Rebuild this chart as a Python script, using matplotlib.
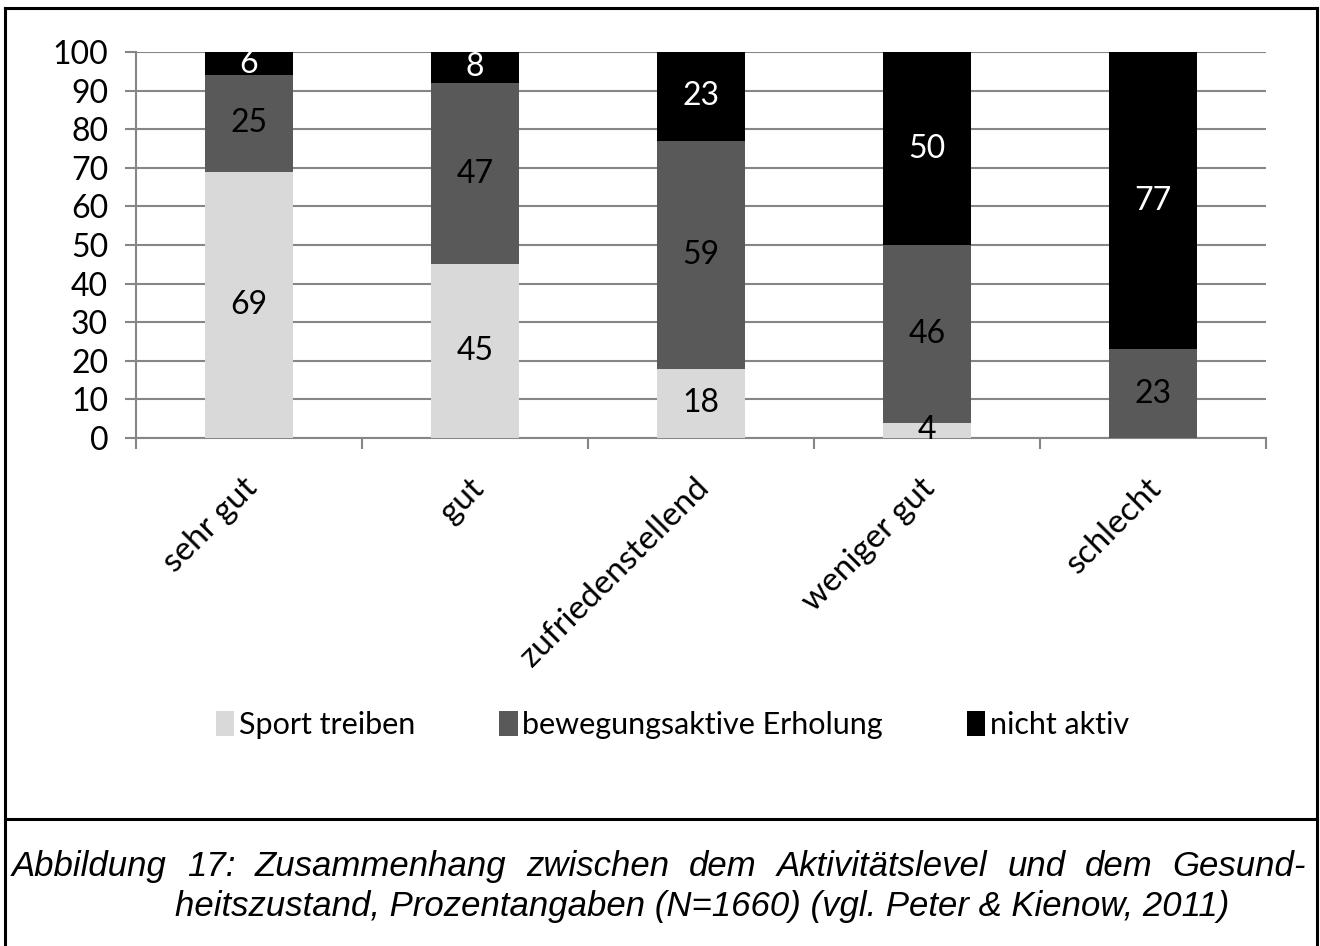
import matplotlib
matplotlib.use("Agg")
from matplotlib import pyplot as plt
from matplotlib.patches import Patch
from matplotlib.lines import Line2D

# Data (percent)
categories = ['sehr gut', 'gut', 'zufriedenstellend', 'weniger gut', 'schlecht']
sport = [69, 45, 18, 4, 0]
erholung = [25, 47, 59, 46, 23]
nicht_aktiv = [6, 8, 23, 50, 77]
series_names = ['Sport treiben', 'bewegungsaktive Erholung', 'nicht aktiv']
colors = ['#d9d9d9', '#595959', '#000000']
label_colors = ['black', 'black', 'white']
caption_lines = [
    'Abbildung 17: Zusammenhang zwischen dem Aktivitätslevel und dem Gesund-',
    'heitszustand, Prozentangaben (N=1660) (vgl. Peter & Kienow, 2011)',
]

plt.rcParams['font.family'] = ['Lato', 'DejaVu Sans']
cap_font = 'Liberation Sans'

grid_c = '#868686'
W, H = 1320, 946
fig = plt.figure(figsize=(13.2, 9.46), dpi=100)
ax = fig.add_axes([0.103, 0.537, 0.856, 0.408])

x = range(len(categories))
bottom = [0] * len(categories)
for vals, col, lc in zip([sport, erholung, nicht_aktiv], colors, label_colors):
    ax.bar(x, vals, bottom=bottom, width=0.39, color=col, zorder=3)
    for i, v in enumerate(vals):
        if v > 0:
            ax.text(i, bottom[i] + v / 2, str(v), ha='center', va='center',
                    fontsize=23, color=lc, zorder=4)
    bottom = [b + v for b, v in zip(bottom, vals)]

ax.set_xlim(-0.5, len(categories) - 0.5)
ax.set_ylim(0, 100)
ax.set_yticks(range(0, 101, 10))
ax.yaxis.grid(True, color=grid_c, linewidth=1.5, zorder=0)
ax.set_xticks([i - 0.5 for i in range(len(categories) + 1)])
ax.set_xticklabels([])
ax.tick_params(axis='x', length=8, width=1.5, color=grid_c)
ax.tick_params(axis='y', length=8, width=1.5, color=grid_c, labelsize=23, pad=12)
for s in ['top', 'right']:
    ax.spines[s].set_visible(False)
for s in ['left', 'bottom']:
    ax.spines[s].set_color(grid_c)
    ax.spines[s].set_linewidth(1.5)

for i, c in enumerate(categories):
    ax.text(i - 0.03, -9, c, rotation=45, ha='right', va='top',
            rotation_mode='anchor', fontsize=24)

handles = [Patch(facecolor=c, edgecolor='none') for c in colors]
fig.legend(handles, series_names, loc='center', bbox_to_anchor=(672.5 / W, 1 - 725 / H),
           ncol=3, frameon=False, fontsize=22, handlelength=0.6, handleheight=0.85,
           handletextpad=0.15, columnspacing=2.75)

# outer frame and separator
def fl(x0, y0, x1, y1):
    fig.add_artist(Line2D([x0 / W, x1 / W], [1 - y0 / H, 1 - y1 / H],
                          color='black', linewidth=2.2))
fl(5, 8, 1317, 8)
fl(5, 8, 5, 946)
fl(1317, 8, 1317, 946)
fl(5, 819, 1317, 819)

# caption, first line justified
fig.canvas.draw()
renderer = fig.canvas.get_renderer()
cap_size = 25
words = caption_lines[0].split(' ')
texts = [fig.text(0, 1 - 866 / H, w, fontsize=cap_size, style='italic', family=cap_font,
                  va='center', ha='left') for w in words]
widths = [t.get_window_extent(renderer).width for t in texts]
x0, x1 = 12, 1306
gap = (x1 - x0 - sum(widths)) / (len(words) - 1)
pos = x0
for t, w in zip(texts, widths):
    t.set_x(pos / W)
    pos += w + gap
fig.text(175 / W, 1 - 906 / H, caption_lines[1], fontsize=cap_size, style='italic',
         family=cap_font, va='center', ha='left')

fig.savefig('out.png', dpi=100)
